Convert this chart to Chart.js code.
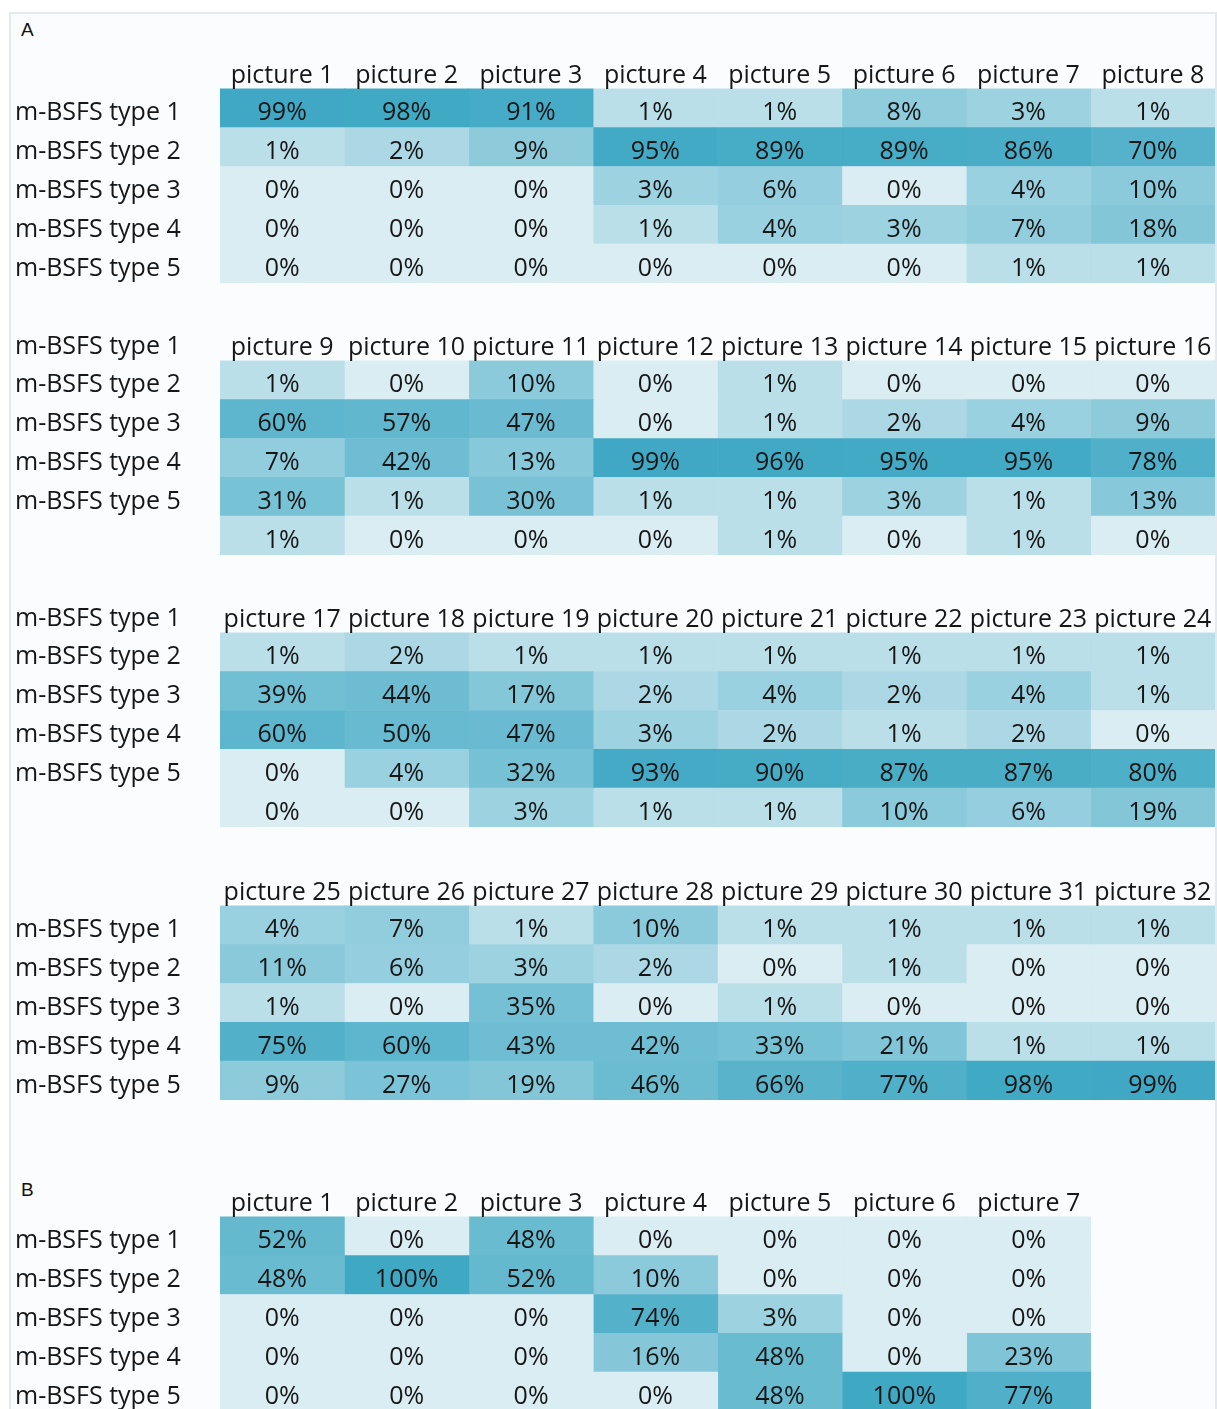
<!DOCTYPE html>
<html>
<head>
<meta charset="utf-8">
<script src="https://cdn.jsdelivr.net/npm/chart.js@4.4.0/dist/chart.umd.min.js"></script>
<style>
  html, body { margin: 0; padding: 0; background: #fff; width: 1217px; height: 1409px; overflow: hidden; }
  #panel { position: absolute; left: 9px; top: 12px; width: 1204px; height: 1420px; border: 2px solid #e3e9ed; background: #fbfcfd; }
  .tag { position: absolute; left: 21px; font: 19px "Liberation Sans", Arial, sans-serif; color: #111; }
  canvas { position: absolute; left: 15px; }
</style>
</head>
<body>
<div id="panel"></div>
<div class="tag" style="top:19px">A</div>
<div class="tag" style="top:1179px">B</div>
<canvas id="blockA1" width="1200" height="233" style="top:50px"></canvas>
<canvas id="blockA2" width="1200" height="233" style="top:322px"></canvas>
<canvas id="blockA3" width="1200" height="233" style="top:594px"></canvas>
<canvas id="blockA4" width="1200" height="233" style="top:867px"></canvas>
<canvas id="blockB" width="1076" height="233" style="top:1178px"></canvas>
<script>
// Row names; first category is the heading row
const rowNames = ['m-BSFS type 1', 'm-BSFS type 2', 'm-BSFS type 3', 'm-BSFS type 4', 'm-BSFS type 5'];
const labelsNormal = ['', ...rowNames];
// in the source figure these two blocks have their labels one row too high
const labelsShifted = [...rowNames, ''];

const picturesA1 = ['picture 1', 'picture 2', 'picture 3', 'picture 4', 'picture 5', 'picture 6', 'picture 7', 'picture 8'];
const valuesA1 = [
    [99, 98, 91, 1, 1, 8, 3, 1],
    [1, 2, 9, 95, 89, 89, 86, 70],
    [0, 0, 0, 3, 6, 0, 4, 10],
    [0, 0, 0, 1, 4, 3, 7, 18],
    [0, 0, 0, 0, 0, 0, 1, 1]
];

const picturesA2 = ['picture 9', 'picture 10', 'picture 11', 'picture 12', 'picture 13', 'picture 14', 'picture 15', 'picture 16'];
const valuesA2 = [
    [1, 0, 10, 0, 1, 0, 0, 0],
    [60, 57, 47, 0, 1, 2, 4, 9],
    [7, 42, 13, 99, 96, 95, 95, 78],
    [31, 1, 30, 1, 1, 3, 1, 13],
    [1, 0, 0, 0, 1, 0, 1, 0]
];

const picturesA3 = ['picture 17', 'picture 18', 'picture 19', 'picture 20', 'picture 21', 'picture 22', 'picture 23', 'picture 24'];
const valuesA3 = [
    [1, 2, 1, 1, 1, 1, 1, 1],
    [39, 44, 17, 2, 4, 2, 4, 1],
    [60, 50, 47, 3, 2, 1, 2, 0],
    [0, 4, 32, 93, 90, 87, 87, 80],
    [0, 0, 3, 1, 1, 10, 6, 19]
];

const picturesA4 = ['picture 25', 'picture 26', 'picture 27', 'picture 28', 'picture 29', 'picture 30', 'picture 31', 'picture 32'];
const valuesA4 = [
    [4, 7, 1, 10, 1, 1, 1, 1],
    [11, 6, 3, 2, 0, 1, 0, 0],
    [1, 0, 35, 0, 1, 0, 0, 0],
    [75, 60, 43, 42, 33, 21, 1, 1],
    [9, 27, 19, 46, 66, 77, 98, 99]
];

const picturesB = ['picture 1', 'picture 2', 'picture 3', 'picture 4', 'picture 5', 'picture 6', 'picture 7'];
const valuesB = [
    [52, 0, 48, 0, 0, 0, 0],
    [48, 100, 52, 10, 0, 0, 0],
    [0, 0, 0, 74, 3, 0, 0],
    [0, 0, 0, 16, 48, 0, 23],
    [0, 0, 0, 0, 48, 100, 77]
];

// colour scale (value -> position between light and dark)
const shadeStops = [[0, 0], [1, 0.2], [3, 0.38], [10, 0.5], [40, 0.66], [60, 0.78], [100, 0.97]];
const lightRGB = [218, 237, 243];
const darkRGB = [58, 166, 194];

function shade(v) {
    let t = 1;
    for (let i = 1; i < shadeStops.length; i++) {
        if (v <= shadeStops[i][0]) {
            const [v0, t0] = shadeStops[i - 1];
            const [v1, t1] = shadeStops[i];
            t = t0 + (t1 - t0) * (v - v0) / (v1 - v0);
            break;
        }
    }
    const c = lightRGB.map((l, k) => Math.round(l + (darkRGB[k] - l) * t));
    return `rgb(${c.join(',')})`;
}

const FONT_SIZE = 25;
const FONT = FONT_SIZE + 'px "Open Sans"';
const TEXT_COLOR = '#161616';
const TEXT_SHIFT = 5; // text sits a little below the cell middle

// writes the percentages in the cells and the picture names in the heading row
const cellText = {
    id: 'cellText',
    afterDatasetsDraw(chart) {
        const { ctx, scales: { x, y } } = chart;
        ctx.save();
        ctx.font = FONT;
        ctx.fillStyle = TEXT_COLOR;
        ctx.textAlign = 'center';
        ctx.textBaseline = 'middle';
        chart.data.datasets.forEach((ds, col) => {
            ctx.fillText(ds.label, x.getPixelForValue(col + 0.5), y.getPixelForValue(0) + TEXT_SHIFT + 1);
            chart.getDatasetMeta(col).data.forEach((bar, i) => {
                const v = ds.cellValues[i];
                if (v == null) return;
                ctx.fillText(v + '%', (bar.x + bar.base) / 2, bar.y + TEXT_SHIFT);
            });
        });
        ctx.restore();
    }
};

function drawBlock(id, pictures, values, rowLabels) {
    const datasets = pictures.map((name, col) => ({
        label: name,
        data: [null, ...values.map(() => 1)],
        cellValues: [null, ...values.map(row => row[col])],
        backgroundColor: ['rgba(0,0,0,0)', ...values.map(row => shade(row[col]))],
        borderWidth: 0,
        barPercentage: 1,
        categoryPercentage: 1
    }));

    new Chart(document.getElementById(id), {
        type: 'bar',
        data: { labels: rowLabels, datasets: datasets },
        options: {
            indexAxis: 'y',
            responsive: false,
            animation: false,
            devicePixelRatio: 1,
            layout: { padding: 0 },
            plugins: {
                legend: { display: false },
                tooltip: { enabled: false }
            },
            scales: {
                x: { type: 'linear', stacked: true, min: 0, max: pictures.length, display: false },
                y: {
                    stacked: true,
                    grid: { display: false },
                    border: { display: false },
                    ticks: {
                        crossAlign: 'far',
                        labelOffset: TEXT_SHIFT,
                        padding: 0,
                        autoSkip: false,
                        color: TEXT_COLOR,
                        font: { family: 'Open Sans', size: FONT_SIZE }
                    },
                    afterFit: s => {
                        // fixed label column, rows fill the whole canvas height
                        s.width = 205;
                        s.paddingTop = 0;
                        s.paddingBottom = 0;
                    }
                }
            }
        },
        plugins: [cellText]
    });
}

drawBlock('blockA1', picturesA1, valuesA1, labelsNormal);
drawBlock('blockA2', picturesA2, valuesA2, labelsShifted);
drawBlock('blockA3', picturesA3, valuesA3, labelsShifted);
drawBlock('blockA4', picturesA4, valuesA4, labelsNormal);
drawBlock('blockB', picturesB, valuesB, labelsNormal);
</script>
</body>
</html>
